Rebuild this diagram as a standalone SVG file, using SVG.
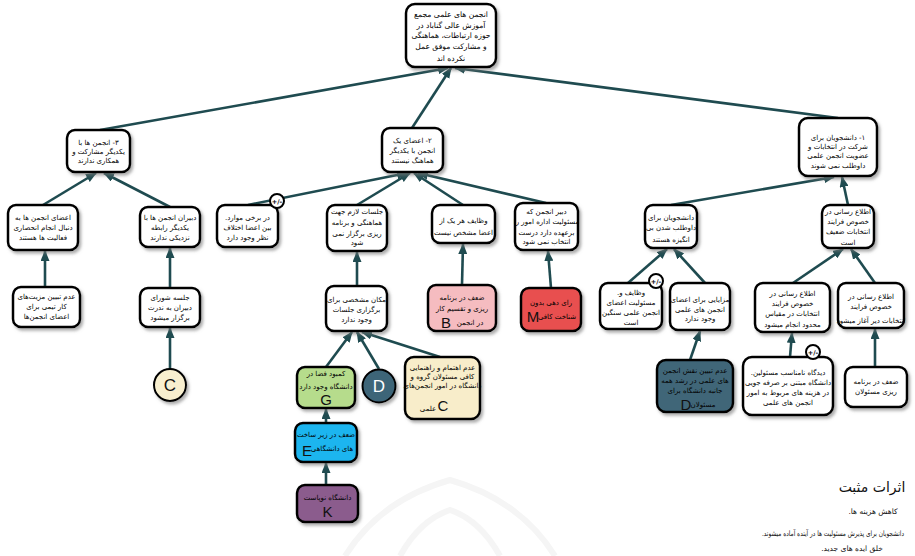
<svg xmlns="http://www.w3.org/2000/svg" width="915" height="556" viewBox="0 0 915 556">
<defs>
<style>
.b{fill:#fff;stroke:#000;stroke-width:2.5}
.t{font-family:"DejaVu Sans",sans-serif;font-size:7px;text-anchor:middle;fill:#000;direction:rtl}
.tt{font-family:"DejaVu Sans",sans-serif;font-size:7.6px;text-anchor:middle;fill:#000;direction:rtl}
.big{font-family:"Liberation Sans",Arial,sans-serif;font-size:15px;text-anchor:middle;fill:#111}
.c{stroke:#1f4b50;stroke-width:2.6;fill:none;marker-end:url(#ah)}
.pm{fill:#fff;stroke:#000;stroke-width:2}
.pmt{font-family:"DejaVu Sans",sans-serif;font-size:6.5px;text-anchor:middle;fill:#000;font-weight:bold}
.lg{font-family:"DejaVu Sans",sans-serif;text-anchor:middle;fill:#111;direction:rtl}
</style>
<marker id="ah" markerUnits="userSpaceOnUse" markerWidth="11" markerHeight="9" refX="10" refY="4.5" orient="auto">
<path d="M0,0 L11,4.5 L0,9 z" fill="#1f4b50"/>
</marker>
<filter id="sh" x="-20%" y="-20%" width="140%" height="140%">
<feDropShadow dx="2" dy="2.5" stdDeviation="1.5" flood-color="#777" flood-opacity="0.6"/>
</filter>
</defs>
<rect width="915" height="556" fill="#fff"/>
<g id="watermark" fill="none" stroke="#f5f5f5" stroke-width="6">
<path d="M345,556 Q380,500 450,480 Q520,500 555,556"/>
<path d="M400,556 Q420,520 450,510 Q480,520 500,556"/>
</g>
<g id="connectors">
<line class="c" x1="100" y1="130" x2="448" y2="68"/>
<line class="c" x1="412" y1="128" x2="451" y2="68"/>
<line class="c" x1="838" y1="118" x2="455" y2="68"/>
<line class="c" x1="43" y1="205" x2="96" y2="173"/>
<line class="c" x1="170" y1="207" x2="104" y2="173"/>
<line class="c" x1="248" y1="205" x2="407" y2="173"/>
<line class="c" x1="357" y1="205" x2="410" y2="173"/>
<line class="c" x1="463" y1="205" x2="414" y2="173"/>
<line class="c" x1="546" y1="203" x2="418" y2="173"/>
<line class="c" x1="671" y1="205" x2="834" y2="177"/>
<line class="c" x1="848" y1="205" x2="842" y2="177"/>
<line class="c" x1="45" y1="287" x2="45" y2="251"/>
<line class="c" x1="170" y1="288" x2="170" y2="248"/>
<line class="c" x1="357" y1="286" x2="357" y2="252"/>
<line class="c" x1="462" y1="285" x2="463" y2="244"/>
<line class="c" x1="551" y1="288" x2="548" y2="251"/>
<line class="c" x1="628" y1="283" x2="667" y2="249"/>
<line class="c" x1="705" y1="283" x2="674" y2="249"/>
<line class="c" x1="793" y1="283" x2="843" y2="249"/>
<line class="c" x1="875" y1="283" x2="851" y2="249"/>
<line class="c" x1="170" y1="369" x2="170" y2="328"/>
<line class="c" x1="326" y1="367" x2="352" y2="332"/>
<line class="c" x1="379" y1="369" x2="357" y2="332"/>
<line class="c" x1="440" y1="357" x2="362" y2="332"/>
<line class="c" x1="690" y1="360" x2="700" y2="331"/>
<line class="c" x1="790" y1="357" x2="792" y2="333"/>
<line class="c" x1="875" y1="367" x2="875" y2="329"/>
<line class="c" x1="326" y1="423" x2="326" y2="409"/>
<line class="c" x1="326" y1="485" x2="326" y2="463"/>
</g>
<g id="n0"><rect class="b" x="406" y="4" width="90" height="63" rx="9" filter="url(#sh)"/>
<text class="tt"><tspan x="451" y="17">انجمن های علمی مجمع</tspan><tspan x="451" y="27.5">آموزش عالی گناباد در</tspan><tspan x="451" y="38">حوزه ارتباطات، هماهنگی</tspan><tspan x="451" y="48.5">و مشارکت موفق عمل</tspan><tspan x="451" y="61">نکرده اند</tspan></text></g>
<g id="n3"><rect class="b" x="67" y="130" width="63" height="42" rx="8" filter="url(#sh)"/>
<text class="t"><tspan x="98.5" y="145">۳- انجمن ها با</tspan><tspan x="98.5" y="154">یکدیگر مشارکت و</tspan><tspan x="98.5" y="163">همکاری ندارند</tspan></text></g>
<g id="n2"><rect class="b" x="382" y="128" width="61" height="44" rx="8" filter="url(#sh)"/>
<text class="t"><tspan x="412.5" y="143">۲- اعضای یک</tspan><tspan x="412.5" y="153">انجمن با یکدیگر</tspan><tspan x="412.5" y="163">هماهنگ نیستند</tspan></text></g>
<g id="n1"><rect class="b" x="799" y="118" width="78" height="58" rx="9" filter="url(#sh)"/>
<text class="t"><tspan x="838" y="140">۱- دانشجویان برای</tspan><tspan x="838" y="149">شرکت در انتخابات و</tspan><tspan x="838" y="158">عضویت انجمن علمی</tspan><tspan x="838" y="168">داوطلب نمی شوند</tspan></text></g>
<g id="a"><rect class="b" x="8" y="205" width="70" height="45" rx="8" filter="url(#sh)"/>
<text class="t"><tspan x="43" y="220">اعضای انجمن ها به</tspan><tspan x="43" y="230">دنبال انجام انحصاری</tspan><tspan x="43" y="240">فعالیت ها هستند</tspan></text></g>
<g id="b"><rect class="b" x="140" y="207" width="60" height="40" rx="8" filter="url(#sh)"/>
<text class="t"><tspan x="170" y="220">دبیران انجمن ها با</tspan><tspan x="170" y="230">یکدیگر رابطه</tspan><tspan x="170" y="240">نزدیکی ندارند</tspan></text></g>
<g id="c"><rect class="b" x="217" y="205" width="61" height="42" rx="8" filter="url(#sh)"/>
<text class="t"><tspan x="247.5" y="220">در برخی موارد.</tspan><tspan x="247.5" y="230">بین اعضا اختلاف</tspan><tspan x="247.5" y="240">نظر وجود دارد</tspan></text>
<circle class="pm" cx="277" cy="201" r="7"/><text class="pmt" x="277" y="203.5">+/-</text></g>
<g id="d"><rect class="b" x="327" y="205" width="60" height="46" rx="8" filter="url(#sh)"/>
<text class="t"><tspan x="357" y="214">جلسات لازم جهت</tspan><tspan x="357" y="225">هماهنگی و برنامه</tspan><tspan x="357" y="236">ریزی برگزار نمی</tspan><tspan x="357" y="245">شود</tspan></text></g>
<g id="e"><rect class="b" x="432" y="205" width="63" height="38" rx="8" filter="url(#sh)"/>
<text class="t"><tspan x="463.5" y="223">وظایف هر یک از</tspan><tspan x="463.5" y="235">اعضا مشخص نیست</tspan></text></g>
<g id="f"><rect class="b" x="515" y="203" width="63" height="47" rx="8" filter="url(#sh)"/>
<text class="t"><tspan x="546.5" y="214">دبیر انجمن که</tspan><tspan x="546.5" y="224">مسئولیت اداره امور را</tspan><tspan x="546.5" y="235">برعهده دارد درست</tspan><tspan x="546.5" y="244">انتخاب نمی شود</tspan></text></g>
<g id="g"><rect class="b" x="645" y="205" width="52" height="43" rx="8" filter="url(#sh)"/>
<text class="t"><tspan x="671" y="220">دانشجویان برای</tspan><tspan x="671" y="230">داوطلب شدن بی</tspan><tspan x="671" y="242">انگیزه هستند</tspan></text></g>
<g id="h"><rect class="b" x="822" y="205" width="52" height="43" rx="8" filter="url(#sh)"/>
<text class="t"><tspan x="848" y="214">اطلاع رسانی در</tspan><tspan x="848" y="224">خصوص فرایند</tspan><tspan x="848" y="234">انتخابات ضعیف</tspan><tspan x="848" y="245">است</tspan></text></g>
<g id="a1"><rect class="b" x="13" y="287" width="67" height="40" rx="8" filter="url(#sh)"/>
<text class="t"><tspan x="46.5" y="299">عدم تبیین مزیت‌های</tspan><tspan x="46.5" y="309">کار تیمی برای</tspan><tspan x="46.5" y="319">اعضای انجمن‌ها</tspan></text></g>
<g id="b1"><rect class="b" x="140" y="288" width="60" height="39" rx="8" filter="url(#sh)"/>
<text class="t"><tspan x="170" y="300">جلسه شورای</tspan><tspan x="170" y="310">دبیران به ندرت</tspan><tspan x="170" y="320">برگزار میشود</tspan></text></g>
<g id="d1"><rect class="b" x="326" y="286" width="61" height="45" rx="8" filter="url(#sh)"/>
<text class="t"><tspan x="356.5" y="302">مکان مشخصی برای</tspan><tspan x="356.5" y="312">برگزاری جلسات</tspan><tspan x="356.5" y="322">وجود ندارد</tspan></text></g>
<g id="pb"><rect class="b" x="428" y="285" width="68" height="46" rx="8" style="fill:#f5bcc0" filter="url(#sh)"/>
<text class="t"><tspan x="462" y="300">ضعف در برنامه</tspan><tspan x="462" y="311">ریزی و تقسیم کار</tspan><tspan x="470" y="325">در انجمن</tspan></text>
<text class="big" x="446" y="328">B</text></g>
<g id="rm"><rect class="b" x="521" y="288" width="60" height="43" rx="8" style="fill:#e8504f" filter="url(#sh)"/>
<text class="t"><tspan x="551" y="305">رای دهی بدون</tspan><tspan x="557" y="319">شناخت کافی</tspan></text>
<text class="big" x="533" y="322">M</text></g>
<g id="gl"><rect class="b" x="600" y="283" width="62" height="46" rx="8" filter="url(#sh)"/>
<text class="t"><tspan x="631" y="295">وظایف و.</tspan><tspan x="631" y="305">مسئولیت اعضای</tspan><tspan x="631" y="315">انجمن علمی سنگین</tspan><tspan x="631" y="325">است</tspan></text>
<circle class="pm" cx="656" cy="281" r="7"/><text class="pmt" x="656" y="283.5">+/-</text></g>
<g id="gr"><rect class="b" x="670" y="283" width="60" height="47" rx="8" filter="url(#sh)"/>
<text class="t"><tspan x="700" y="302">مزایایی برای اعضای</tspan><tspan x="700" y="312">انجمن های علمی</tspan><tspan x="700" y="321">وجود ندارد</tspan></text></g>
<g id="hl"><rect class="b" x="755" y="283" width="75" height="49" rx="8" filter="url(#sh)"/>
<text class="t"><tspan x="792.5" y="296">اطلاع رسانی در</tspan><tspan x="792.5" y="306">خصوص فرایند</tspan><tspan x="792.5" y="316">انتخابات در مقیاس</tspan><tspan x="792.5" y="327">محدود انجام میشود</tspan></text></g>
<g id="hr"><rect class="b" x="838" y="283" width="66" height="45" rx="8" filter="url(#sh)"/>
<text class="t"><tspan x="871" y="299">اطلاع رسانی در</tspan><tspan x="871" y="309">خصوص فرایند</tspan><tspan x="871" y="323">انتخابات دیر آغاز میشود</tspan></text></g>
<g id="cc"><circle cx="170" cy="385" r="16" fill="#f8efcf" stroke="#000" stroke-width="2" filter="url(#sh)"/>
<text class="big" x="170" y="391" style="font-size:17px">C</text></g>
<g id="gg"><rect class="b" x="297" y="367" width="58" height="41" rx="8" style="fill:#b6dc8c" filter="url(#sh)"/>
<text class="t"><tspan x="326" y="376">کمبود فضا در</tspan><tspan x="326" y="389">دانشگاه وجود دارد</tspan></text>
<text class="big" x="326" y="405">G</text></g>
<g id="dc"><circle cx="379" cy="386" r="16.5" fill="#3e6578" stroke="#000" stroke-width="2" filter="url(#sh)"/>
<text class="big" x="379" y="392" style="font-size:17px;fill:#fff">D</text></g>
<g id="cr"><rect class="b" x="405" y="357" width="75" height="62" rx="9" style="fill:#f8edca" filter="url(#sh)"/>
<text class="t"><tspan x="442.5" y="370">عدم اهتمام و راهنمایی</tspan><tspan x="442.5" y="379">کافی مسئولان گروه و</tspan><tspan x="442.5" y="388">دانشگاه در امور انجمن‌های</tspan><tspan x="428" y="411">علمی</tspan></text>
<text class="big" x="443" y="411">C</text></g>
<g id="dd"><rect class="b" x="657" y="360" width="76" height="52" rx="9" style="fill:#3f6678" filter="url(#sh)"/>
<text class="t"><tspan x="695" y="373">عدم تبیین نقش انجمن</tspan><tspan x="695" y="383">های علمی در رشد همه</tspan><tspan x="695" y="393">جانبه دانشگاه برای</tspan><tspan x="703" y="407">مسئولان</tspan></text>
<text class="big" x="686" y="410">D</text></g>
<g id="hlc"><rect class="b" x="743" y="357" width="90" height="58" rx="9" filter="url(#sh)"/>
<text class="t"><tspan x="788" y="375">دیدگاه نامناسب مسئولین.</tspan><tspan x="788" y="385">دانشگاه مبتنی بر صرفه جویی</tspan><tspan x="788" y="395">در هزینه های مربوط به امور</tspan><tspan x="788" y="405">انجمن های علمی</tspan></text>
<circle class="pm" cx="813" cy="352" r="7"/><text class="pmt" x="813" y="354.5">+/-</text></g>
<g id="hrc"><rect class="b" x="845" y="367" width="62" height="40" rx="8" filter="url(#sh)"/>
<text class="t"><tspan x="876" y="384">ضعف در برنامه</tspan><tspan x="876" y="394">ریزی مسئولان</tspan></text></g>
<g id="ee"><rect class="b" x="295" y="423" width="62" height="39" rx="8" style="fill:#1bb5ef" filter="url(#sh)"/>
<text class="t"><tspan x="326" y="437">ضعف در زیر ساخت</tspan><tspan x="332" y="451">های دانشگاهی</tspan></text>
<text class="big" x="307" y="456">E</text></g>
<g id="kk"><rect class="b" x="297" y="485" width="61" height="37" rx="8" style="fill:#8b5c8d" filter="url(#sh)"/>
<text class="t"><tspan x="327.5" y="500">دانشگاه نوپاست</tspan></text>
<text class="big" x="327.5" y="517">K</text></g>
<g id="legend">
<text class="lg" x="872" y="492" style="font-size:14px">اثرات مثبت</text>
<text class="lg" x="873" y="514" style="font-size:7.5px">کاهش هزینه ها.</text>
<text class="lg" x="0" y="0" style="font-size:7.5px" transform="translate(833,536) scale(0.77,1)">دانشجویان برای پذیرش مسئولیت ها در آینده آماده میشوند.</text>
<text class="lg" x="852" y="551" style="font-size:7.5px">خلق ایده های جدید.</text>
</g>
</svg>
